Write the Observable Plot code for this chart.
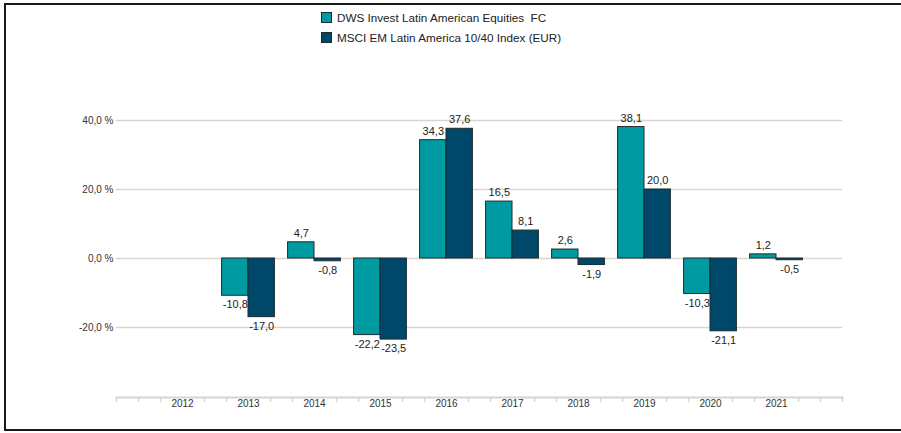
<!DOCTYPE html>
<html><head><meta charset="utf-8">
<script src="https://cdn.jsdelivr.net/npm/d3@7"></script>
<script src="https://cdn.jsdelivr.net/npm/@observablehq/plot@0.6"></script>
<style>
html,body{margin:0;padding:0;background:#fff;overflow:hidden}
#wrap{position:relative;width:901px;height:433px;font-family:"Liberation Sans",Arial,sans-serif;overflow:hidden}
#frame{position:absolute;left:4px;top:3px;width:1000px;height:428px;border:2px solid #1a1a1a;border-right:none;box-sizing:border-box}
#legend{position:absolute;left:321px;top:7px;font-size:11.7px;color:#222}
.item{display:flex;align-items:center;height:20px;white-space:pre}
.sw{width:9px;height:9px;border:1px solid #1c2b30;margin-right:5px}
#chart{position:absolute;left:0;top:0}
</style></head>
<body>
<div id="wrap">
  <div id="frame"></div>
  <div id="chart"></div>
  <div id="legend"></div>
</div>
<script>
const years = [2012, 2013, 2014, 2015, 2016, 2017, 2018, 2019, 2020, 2021];
const seriesNames = ["DWS Invest Latin American Equities  FC", "MSCI EM Latin America 10/40 Index (EUR)"];
const dws  = [null, -10.8, 4.7, -22.2, 34.3, 16.5, 2.6, 38.1, -10.3, 1.2];
const msci = [null, -17.0, -0.8, -23.5, 37.6, 8.1, -1.9, 20.0, -21.1, -0.5];
const yTicks = [-20, 0, 20, 40];
const colors = ["#009ba0", "#00486a"];

const W = 0.4; // bar width in years
const data = years.flatMap((y, i) => [
  {year: y, series: seriesNames[0], value: dws[i], side: -1},
  {year: y, series: seriesNames[1], value: msci[i], side: 1}
]).filter(d => d.value != null);

const fmt = v => v.toFixed(1).replace(".", ",");
const minorTicks = d3.range(0, 34).filter(k => k % 3 !== 0 || k === 0 || k === 33).map(k => 2011 + k / 3);
const grid = "#d9d5cd";

const chart = Plot.plot({
  width: 901,
  height: 433,
  marginLeft: 116,
  marginRight: 59,
  marginTop: 60,
  marginBottom: 36,
  style: {fontFamily: '"Liberation Sans", Arial, sans-serif', background: "transparent"},
  x: {type: "linear", domain: [2011, 2022]},
  y: {domain: [-20, 40], range: [327, 120]},
  color: {domain: seriesNames, range: colors},
  marks: [
    Plot.gridY({ticks: yTicks, stroke: grid, strokeOpacity: 1, strokeWidth: 1.5}),
    Plot.axisY({ticks: yTicks, tickSize: 0, tickPadding: 3, label: null, fontSize: 10, fill: "#333",
      tickFormat: d => fmt(d) + " %"}),
    Plot.frame({anchor: "bottom", stroke: grid, strokeWidth: 2}),
    Plot.axisX({ticks: minorTicks, tickSize: 5, text: null, stroke: grid, strokeWidth: 1.5, label: null}),
    Plot.axisX({ticks: years, tickSize: 0, tickPadding: 2, label: null, fontSize: 10, fill: "#333",
      tickFormat: d => String(d)}),
    Plot.rectY(data, {
      x1: d => d.side < 0 ? d.year - W : d.year,
      x2: d => d.side < 0 ? d.year : d.year + W,
      y1: 0, y2: "value", fill: "series", stroke: "#1c2b30", strokeWidth: 1
    }),
    Plot.text(data.filter(d => d.value >= 0), {
      x: d => d.year + d.side * W / 2, y: "value", text: d => fmt(d.value),
      dy: -9, fontSize: 11, fill: "#222"
    }),
    Plot.text(data.filter(d => d.value < 0), {
      x: d => d.year + d.side * W / 2, y: "value", text: d => fmt(d.value),
      dy: 9, fontSize: 11, fill: "#222"
    })
  ]
});
document.getElementById("chart").appendChild(chart);

const legend = document.getElementById("legend");
seriesNames.forEach((name, i) => {
  const item = document.createElement("div");
  item.className = "item";
  const sw = document.createElement("span");
  sw.className = "sw";
  sw.style.background = colors[i];
  const t = document.createElement("span");
  t.textContent = name;
  item.appendChild(sw);
  item.appendChild(t);
  legend.appendChild(item);
});
</script>
</body></html>
